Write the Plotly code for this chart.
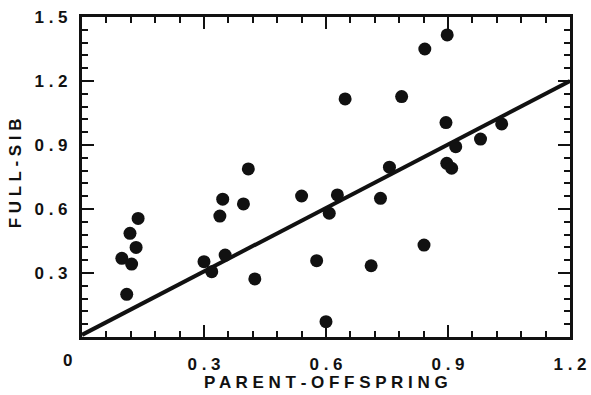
import plotly.graph_objects as go

# Data
parent_offspring = [0.098, 0.122, 0.110, 0.118, 0.133, 0.138,
                    0.300, 0.319, 0.352, 0.339, 0.346, 0.397, 0.425, 0.409,
                    0.540, 0.628, 0.608, 0.577, 0.600, 0.647, 0.711, 0.734,
                    0.756, 0.786, 0.841, 0.843, 0.898, 0.895, 0.897, 0.909,
                    0.919, 0.980, 1.032]
full_sib = [0.369, 0.342, 0.200, 0.486, 0.420, 0.556,
            0.353, 0.306, 0.384, 0.567, 0.646, 0.624, 0.272, 0.788,
            0.661, 0.666, 0.580, 0.358, 0.072, 1.116, 0.334, 0.650,
            0.796, 1.127, 0.431, 1.350, 1.416, 1.005, 0.814, 0.791,
            0.892, 0.928, 0.999]

fit_x = [0.0, 1.2]
fit_y = [0.01, 1.2]

x_tickvals = [0.3, 0.6, 0.9, 1.2]
x_ticktext = ["0 . 3", "0 . 6", "0 . 9", "1 . 2"]
y_tickvals = [0.3, 0.6, 0.9, 1.2, 1.5]
y_ticktext = ["0 . 3", "0 . 6", "0 . 9", "1 . 2", "1 . 5"]
origin_label = "0"
x_title = "P A R E N T - O F F S P R I N G"
y_title = "F U L L - S I B"

INK = "#111111"
FONT = "Liberation Sans"


def bold(s):
    return "<b>" + s + "</b>"


fig = go.Figure()
fig.add_trace(go.Scatter(x=fit_x, y=fit_y, mode="lines",
                         line=dict(color=INK, width=4), showlegend=False,
                         cliponaxis=False, hoverinfo="skip"))
fig.add_trace(go.Scatter(x=parent_offspring, y=full_sib, mode="markers",
                         marker=dict(color=INK, size=13, line=dict(width=0)),
                         showlegend=False, cliponaxis=False))

axis_common = dict(
    showgrid=False, zeroline=False, showline=True, linecolor=INK, linewidth=3,
    mirror="ticks", ticks="inside", ticklen=12, tickwidth=2, tickcolor=INK,
    tickfont=dict(family=FONT, size=17, color=INK),
    fixedrange=True, automargin=False,
)

fig.update_xaxes(range=[0, 1.2], tickvals=x_tickvals,
                 ticktext=[bold(t) for t in x_ticktext],
                 minor=dict(dtick=0.06, tick0=0, ticks="inside", ticklen=6,
                            tickwidth=2, tickcolor=INK),
                 ticklabelstandoff=10,
                 **axis_common)
fig.update_yaxes(range=[0, 1.5], tickvals=y_tickvals,
                 ticktext=[bold(t) for t in y_ticktext],
                 minor=dict(dtick=0.06, tick0=0, ticks="inside", ticklen=6,
                            tickwidth=2, tickcolor=INK),
                 ticklabelstandoff=8,
                 **axis_common)

fig.add_annotation(x=0, y=0, xref="x", yref="y", text=bold(origin_label),
                   showarrow=False, xshift=-15, yshift=-23,
                   font=dict(family=FONT, size=17, color=INK))
fig.add_annotation(x=0.5, y=-0.178, xref="paper", yref="paper", text=bold(x_title),
                   showarrow=False, yanchor="bottom",
                   font=dict(family=FONT, size=17, color=INK))
fig.add_annotation(x=-0.137, y=0.512, xref="paper", yref="paper", text=bold(y_title),
                   showarrow=False, textangle=-90, xanchor="center", yanchor="middle",
                   font=dict(family=FONT, size=17, color=INK))

fig.update_layout(
    width=591, height=395,
    margin=dict(l=82, r=21, t=17, b=58),
    paper_bgcolor="white", plot_bgcolor="white",
    font=dict(family=FONT, color=INK),
)

fig.write_html("out.html",
               config={"displayModeBar": False},
               post_script="document.body.style.margin='0';document.body.style.overflow='hidden';")
